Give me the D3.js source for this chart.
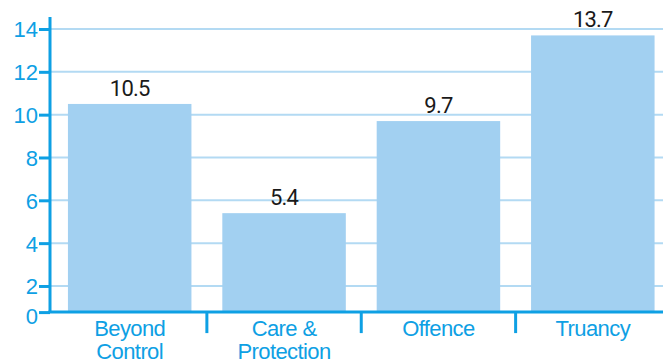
<!DOCTYPE html>
<html>
<head>
<meta charset="utf-8">
<script src="https://cdn.jsdelivr.net/npm/d3@7"></script>
<style>
  body { margin: 0; background: #fff; }
  svg { display: block; }
</style>
</head>
<body>
<script>
// data
const categories = [["Beyond", "Control"], ["Care &", "Protection"], ["Offence"], ["Truancy"]];
const values = [10.5, 5.4, 9.7, 13.7];
const yTicks = [2, 4, 6, 8, 10, 12, 14];

const W = 663, H = 363;
const blue = '#0ea0e4';
const barColor = '#a2d0f1';
const gridColor = '#b3daf3';

// original baseline sits a little above true zero, but is labelled "0"
const yFloor = 0.78;

const svg = d3.select('body')
    .append('svg')
    .attr('width', W)
    .attr('height', H);

const y = d3.scaleLinear()
    .domain([0, 14.56])
    .range([328.8, 17]);

const x = d3.scaleBand()
    .domain(d3.range(categories.length))
    .range([52.5, 670])
    .paddingInner(0.2)
    .paddingOuter(0.1);

const axisX = 50;
const baseY = y(yFloor);

//gridlines
svg.append('g')
    .selectAll('line')
    .data(yTicks)
    .enter()
    .append('line')
    .attr('x1', axisX)
    .attr('x2', W)
    .attr('y1', d => y(d))
    .attr('y2', d => y(d))
    .attr('stroke', gridColor)
    .attr('stroke-width', 2);

//bars
svg.append('g')
    .selectAll('rect')
    .data(values)
    .enter()
    .append('rect')
    .attr('x', (d, i) => x(i))
    .attr('width', x.bandwidth())
    .attr('y', d => y(d))
    .attr('height', d => baseY - y(d))
    .attr('fill', barColor);

//value labels
svg.append('g')
    .selectAll('text')
    .data(values)
    .enter()
    .append('text')
    .attr('x', (d, i) => x(i) + x.bandwidth() / 2)
    .attr('y', d => y(d) - 8)
    .attr('text-anchor', 'middle')
    .style('font-family', 'Roboto, sans-serif')
    .style('font-size', '22px')
    .style('letter-spacing', '-0.8px')
    .attr('fill', '#1a1a1a')
    .text(d => d.toFixed(1));

//y axis
const yAxis = svg.append('g')
    .attr('transform', `translate(${axisX},0)`)
    .call(d3.axisLeft(y)
        .tickValues([yFloor].concat(yTicks))
        .tickFormat(d => d === yFloor ? '0' : d)
        .tickSizeInner(11)
        .tickSizeOuter(0)
        .tickPadding(1));

yAxis.select('.domain')
    .attr('d', `M0,17V${baseY}`)
    .attr('stroke', blue)
    .attr('stroke-width', 3);
yAxis.selectAll('.tick line')
    .attr('stroke', blue)
    .attr('stroke-width', 3);
yAxis.selectAll('.tick text')
    .attr('fill', blue)
    .style('font-family', '"Liberation Sans", Arial, sans-serif')
    .style('font-size', '22px')
    .attr('dy', d => d === yFloor ? '0.5em' : '0.36em');

//x axis baseline
svg.append('line')
    .attr('x1', axisX - 1.5)
    .attr('x2', W)
    .attr('y1', baseY)
    .attr('y2', baseY)
    .attr('stroke', blue)
    .attr('stroke-width', 3);

//separator ticks between categories
const gap = x.step() * x.paddingInner() / 2;
svg.append('g')
    .selectAll('line')
    .data(d3.range(1, categories.length))
    .enter()
    .append('line')
    .attr('x1', i => x(i) - gap)
    .attr('x2', i => x(i) - gap)
    .attr('y1', baseY)
    .attr('y2', baseY + 21)
    .attr('stroke', blue)
    .attr('stroke-width', 3);

//category labels
const catLabel = svg.append('g')
    .selectAll('text')
    .data(categories)
    .enter()
    .append('text')
    .attr('x', (d, i) => x(i) + x.bandwidth() / 2)
    .attr('y', 336)
    .attr('text-anchor', 'middle')
    .attr('fill', blue)
    .style('font-family', '"Liberation Sans", Arial, sans-serif')
    .style('font-size', '22px')
    .style('letter-spacing', '-0.6px');

catLabel.selectAll('tspan')
    .data(d => d)
    .enter()
    .append('tspan')
    .attr('x', function () { return d3.select(this.parentNode).attr('x'); })
    .attr('dy', (d, i) => i === 0 ? 0 : 23)
    .text(d => d);
</script>
</body>
</html>
